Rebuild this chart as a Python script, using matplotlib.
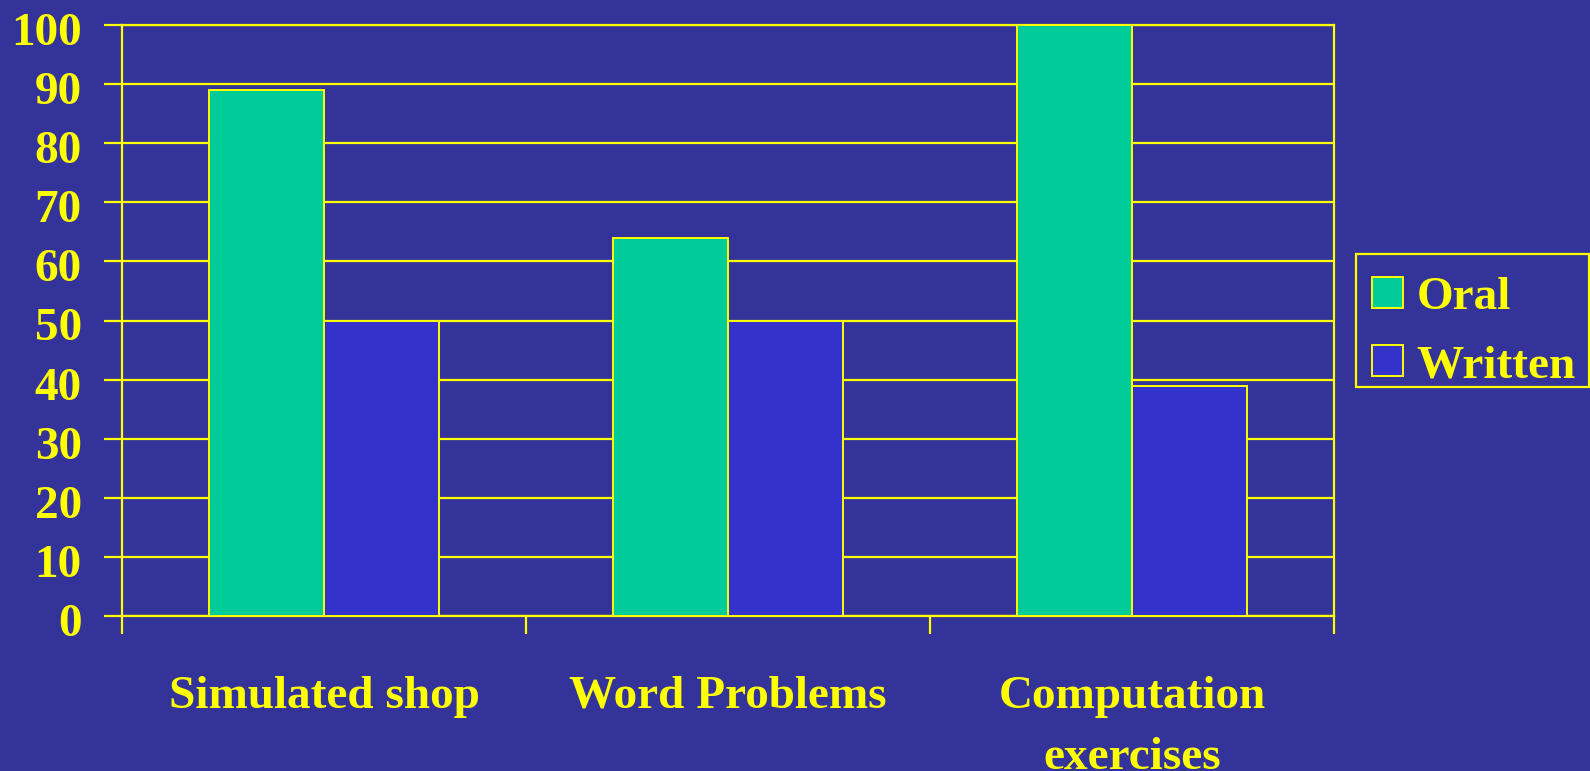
import numpy as np
import matplotlib
matplotlib.use("Agg")
import matplotlib.pyplot as plt
import matplotlib.transforms as mtransforms
from matplotlib.patches import Rectangle

categories = ["Simulated shop", "Word Problems", "Computation\nexercises"]
oral = [89, 64, 100]
written = [50, 50, 39]

bg = "#333399"
yellow = "#FFFF00"
oral_color = "#00CC99"
written_color = "#3333CC"

plt.rcParams["font.family"] = ["Liberation Serif", "DejaVu Serif"]
plt.rcParams["font.weight"] = "bold"

W, H = 1590, 771
fig = plt.figure(figsize=(W / 100, H / 100), dpi=100, facecolor=bg)
ax = fig.add_axes([122 / W, 1 - 616 / H, (1334 - 122) / W, (616 - 25) / H])
ax.set_facecolor(bg)

x = np.arange(len(categories))
w = 1 / 3.5
ax.bar(x - w / 2, oral, width=w, color=oral_color, edgecolor=yellow, linewidth=1.4, label="Oral", zorder=3)
ax.bar(x + w / 2, written, width=w, color=written_color, edgecolor=yellow, linewidth=1.4, label="Written", zorder=3)

ax.set_xlim(-0.5, len(categories) - 0.5)
ax.set_ylim(0, 100)
ax.set_yticks(range(0, 101, 10))
ax.yaxis.grid(True, color=yellow, linewidth=1.6, zorder=1)
ax.set_axisbelow(True)

# boundary ticks between groups, labels centred under each group
ax.set_xticks(np.arange(-0.5, len(categories), 1))
ax.set_xticklabels([])
ax.set_xticks(x, minor=True)
ax.set_xticklabels(categories, minor=True, fontsize=34, fontweight="bold", color=yellow,
                   linespacing=1.6, va="top")
ax.tick_params(axis="x", which="major", length=13, width=1.6, color=yellow)
ax.tick_params(axis="x", which="minor", length=0, pad=43)
ax.tick_params(axis="y", length=13, width=1.6, color=yellow, labelcolor=yellow,
               labelsize=34, pad=16)
shift = mtransforms.ScaledTranslation(0, -0.04, fig.dpi_scale_trans)
for lbl in ax.get_yticklabels():
    lbl.set_fontweight("bold")
    lbl.set_transform(lbl.get_transform() + shift)

for s in ax.spines.values():
    s.set_color(yellow)
    s.set_linewidth(1.6)

# legend frame drawn separately so the entries can sit low in the box
fig.patches.append(Rectangle((1356 / W, 1 - 387 / H), (1589 - 1356) / W, (387 - 254) / H,
                             transform=fig.transFigure, facecolor=bg, edgecolor=yellow,
                             linewidth=1.6, zorder=2))
leg = fig.legend(loc="center left", bbox_to_anchor=(1372 / W, 1 - 332 / H),
                 fontsize=34, frameon=False,
                 handlelength=0.65, handleheight=0.65, handletextpad=0.3,
                 labelspacing=0.54, borderpad=0, borderaxespad=0)
leg.set_zorder(3)
for t in leg.get_texts():
    t.set_color(yellow)
    t.set_fontweight("bold")

fig.savefig("out.png", dpi=100, facecolor=bg)
